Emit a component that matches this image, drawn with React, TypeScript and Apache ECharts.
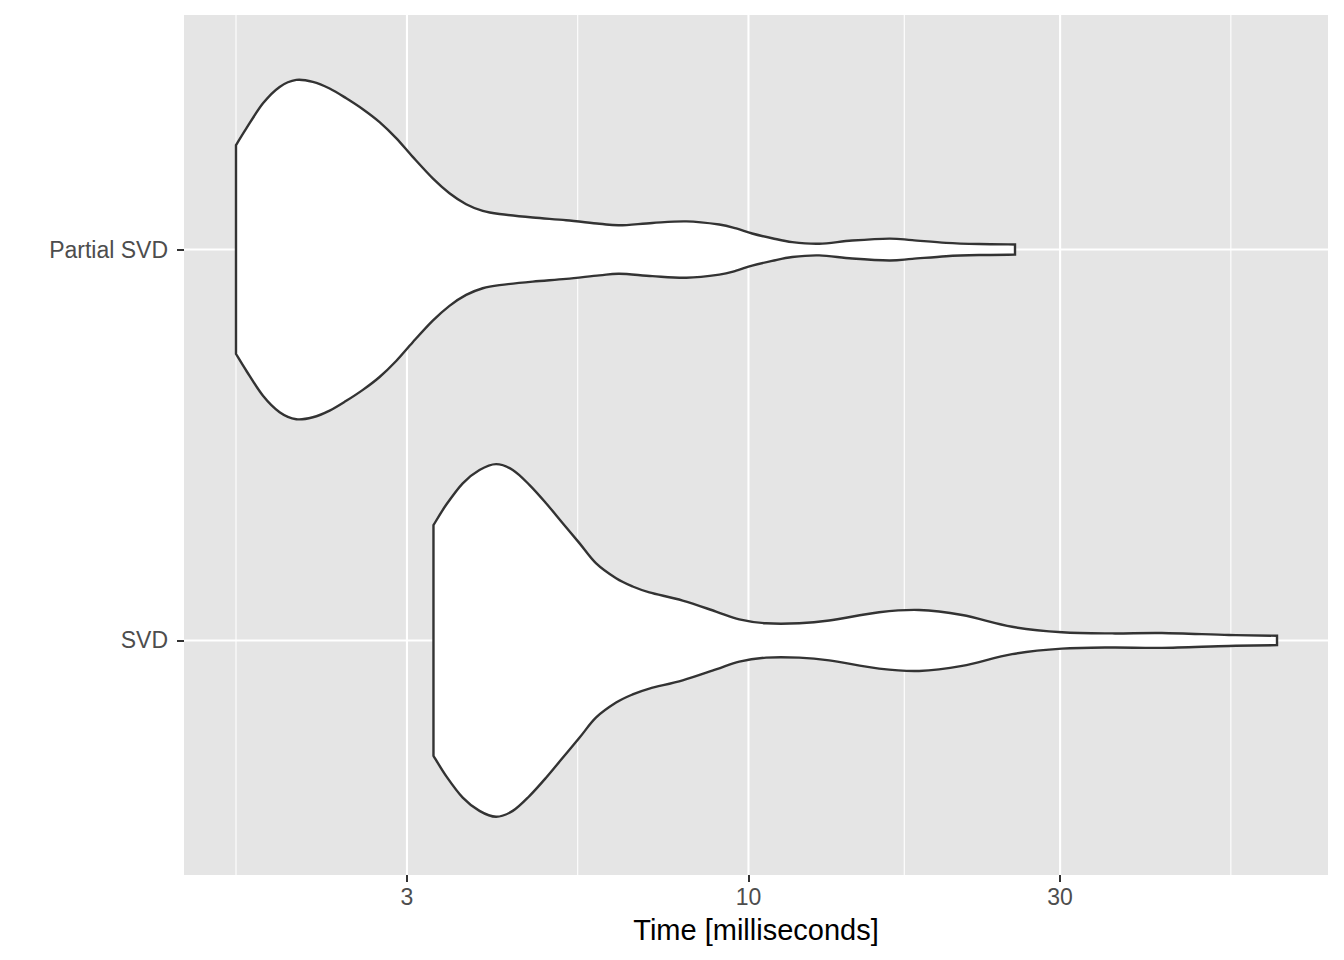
import React, { useEffect, useRef } from "react";
import * as echarts from "echarts";

// ---- data ----
const categories = ["SVD", "Partial SVD"]; // y positions 1, 2
const xTickValues = [3, 10, 30];
const xMinorGrid = [1.642, 5.477, 17.32, 54.77];
const xLimits = [1.367, 77.14];
const yLimits = [0.4, 2.6];

// Partial SVD violin: time (ms) and half-width (category units)
const partialTime = [
  1.642, 1.703, 1.806, 1.915, 2.031, 2.153, 2.284, 2.422, 2.568, 2.724, 2.888,
  3.062, 3.286, 3.485, 3.696, 3.919, 4.156, 4.674, 5.258, 5.912, 6.345, 7.126,
  8.032, 9.023, 9.579, 10.13, 10.87, 11.67, 12.83, 14.41, 16.43, 17.81, 20.07,
  22.55, 25.59,
];
const partialHalfWidth = [
  0.267, 0.31, 0.374, 0.416, 0.434, 0.429, 0.412, 0.387, 0.359, 0.326, 0.285,
  0.237, 0.182, 0.144, 0.116, 0.099, 0.091, 0.082, 0.075, 0.066, 0.062, 0.068,
  0.072, 0.064, 0.054, 0.041, 0.029, 0.019, 0.015, 0.023, 0.028, 0.024, 0.017,
  0.014, 0.013,
];

// SVD violin
const svdTime = [
  3.294, 3.445, 3.652, 3.874, 4.108, 4.356, 4.619, 4.899, 5.195, 5.51, 5.845,
  6.271, 6.648, 7.051, 7.929, 8.918, 9.681, 10.64, 11.96, 13.29, 15.85, 18.25,
  21.24, 25.33, 30.2, 36.03, 42.96, 54.41, 64.45,
];
const svdHalfWidth = [
  0.295, 0.347, 0.402, 0.436, 0.451, 0.436, 0.398, 0.351, 0.3, 0.249, 0.197,
  0.159, 0.138, 0.123, 0.102, 0.074, 0.054, 0.044, 0.044, 0.051, 0.072, 0.078,
  0.065, 0.035, 0.021, 0.018, 0.019, 0.014, 0.012,
];

const violins = [
  { name: "SVD", pos: 1, time: svdTime, hw: svdHalfWidth },
  { name: "Partial SVD", pos: 2, time: partialTime, hw: partialHalfWidth },
];

const FONT = "'Liberation Sans', Arial, Helvetica, sans-serif";

function splineThrough(ctx: any, pts: number[][], move: boolean) {
  const n = pts.length;
  if (move) ctx.moveTo(pts[0][0], pts[0][1]);
  else ctx.lineTo(pts[0][0], pts[0][1]);
  for (let i = 0; i < n - 1; i++) {
    const p0 = pts[Math.max(i - 1, 0)];
    const p1 = pts[i];
    const p2 = pts[i + 1];
    const p3 = pts[Math.min(i + 2, n - 1)];
    ctx.bezierCurveTo(
      p1[0] + (p2[0] - p0[0]) / 6,
      p1[1] + (p2[1] - p0[1]) / 6,
      p2[0] - (p3[0] - p1[0]) / 6,
      p2[1] - (p3[1] - p1[1]) / 6,
      p2[0],
      p2[1]
    );
  }
}

let registered = false;
function registerViolin() {
  if (registered) return;
  registered = true;
  const Violin = (echarts.graphic as any).extendShape({
    type: "violinShape",
    shape: { upper: [], lower: [] },
    buildPath(ctx: any, shape: any) {
      if (!shape.upper || !shape.upper.length) return;
      splineThrough(ctx, shape.upper, true);
      splineThrough(ctx, shape.lower.slice().reverse(), false);
      ctx.closePath();
    },
  });
  (echarts.graphic as any).registerShape("violinShape", Violin);
}

export default function App() {
  const ref = useRef<HTMLDivElement>(null);
  useEffect(() => {
    if (!ref.current) return;
    registerViolin();
    const chart = echarts.init(ref.current, null, { renderer: "svg" });
    const option: any = {
      animation: false,
      backgroundColor: "#FFFFFF",
      grid: { left: 184, right: 16, top: 15, bottom: 85, show: true, backgroundColor: "#E5E5E5", borderWidth: 0 },
      xAxis: {
        type: "log",
        logBase: 10,
        min: xLimits[0],
        max: xLimits[1],
        axisLine: { show: false },
        axisTick: { show: true, customValues: xTickValues, length: 7, lineStyle: { color: "#333333", width: 2 } },
        axisLabel: {
          customValues: xTickValues,
          formatter: (v: number) => String(Math.round(v)),
          color: "#4D4D4D",
          fontSize: 23,
          fontFamily: FONT,
          margin: 10,
        },
        splitLine: { show: false },
        minorTick: { show: false },
        minorSplitLine: { show: false },
        name: "Time [milliseconds]",
        nameLocation: "middle",
        nameGap: 40,
        nameTextStyle: { color: "#000000", fontSize: 29, fontFamily: FONT },
      },
      yAxis: {
        type: "value",
        min: yLimits[0],
        max: yLimits[1],
        axisLine: { show: false },
        axisTick: { show: true, customValues: [1, 2], length: 7, lineStyle: { color: "#333333", width: 2 } },
        axisLabel: {
          customValues: [1, 2],
          formatter: (v: number) => categories[Math.round(v) - 1] || "",
          color: "#4D4D4D",
          fontSize: 23,
          fontFamily: FONT,
          margin: 16,
        },
        splitLine: { show: false },
      },
      series: [
        {
          type: "custom",
          silent: true,
          z: 1,
          data: [[10, 1]],
          renderItem: (_p: any, api: any) => {
            const children: any[] = [];
            xMinorGrid.forEach((v) => {
              const a = api.coord([v, yLimits[0]]);
              const b = api.coord([v, yLimits[1]]);
              children.push({ type: "line", shape: { x1: a[0], y1: a[1], x2: b[0], y2: b[1] }, style: { stroke: "#FFFFFF", lineWidth: 1.1 } });
            });
            xTickValues.forEach((v) => {
              const a = api.coord([v, yLimits[0]]);
              const b = api.coord([v, yLimits[1]]);
              children.push({ type: "line", shape: { x1: a[0], y1: a[1], x2: b[0], y2: b[1] }, style: { stroke: "#FFFFFF", lineWidth: 2.1 } });
            });
            [1, 2].forEach((v) => {
              const a = api.coord([xLimits[0], v]);
              const b = api.coord([xLimits[1], v]);
              children.push({ type: "line", shape: { x1: a[0], y1: a[1], x2: b[0], y2: b[1] }, style: { stroke: "#FFFFFF", lineWidth: 2.1 } });
            });
            return { type: "group", children };
          },
        },
        {
          type: "custom",
          silent: true,
          z: 2,
          data: violins.map((v) => [v.time[0], v.pos]),
          renderItem: (p: any, api: any) => {
            const v = violins[p.dataIndex];
            const upper = v.time.map((t, i) => api.coord([t, v.pos + v.hw[i]]));
            const lower = v.time.map((t, i) => api.coord([t, v.pos - v.hw[i]]));
            return {
              type: "violinShape",
              shape: { upper, lower },
              style: { fill: "#FFFFFF", stroke: "#333333", lineWidth: 2.4 },
            };
          },
        },
      ],
    };
    chart.setOption(option);
    return () => chart.dispose();
  }, []);
  return <div ref={ref} style={{ position: "absolute", left: 0, top: 0, width: 1344, height: 960 }} />;
}
